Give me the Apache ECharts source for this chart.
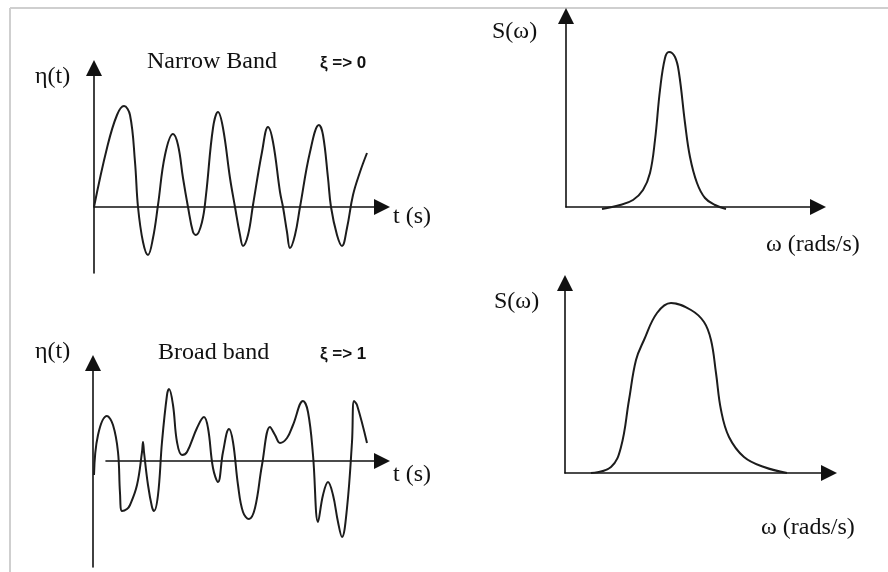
<!DOCTYPE html>
<html>
<head>
<meta charset="utf-8">
<script src="https://cdn.jsdelivr.net/npm/echarts@6/dist/echarts.min.js"></script>
<style>
  html, body { margin: 0; padding: 0; background: #fff; }
  #chart { width: 888px; height: 572px; }
</style>
</head>
<body>
<div id="chart"></div>
<script>
// Narrow-band sea state: time (s) and surface elevation η(t)
const narrowT   = [0, 1.3, 2.3, 3.0, 3.6, 4.1, 4.4, 4.9, 5.4, 5.9, 6.4, 7.1, 7.9, 8.4, 8.9, 9.4, 9.9, 10.2, 10.8, 11.2,
                   11.9, 12.4, 12.9, 13.6, 14.1, 14.6, 14.9, 15.4, 15.9, 16.8, 17.4, 17.9, 18.6, 18.9, 19.3, 19.6, 20.1,
                   20.6, 21.6, 22.5, 22.9, 23.4, 23.7, 24.3, 24.8, 25.3, 25.9, 26.6, 27.3];
const narrowEta = [0, 0.59, 0.92, 1.01, 0.92, 0.45, 0, -0.35, -0.48, -0.31, 0.02, 0.52, 0.73, 0.62, 0.29, 0, -0.25, -0.28, -0.15, 0.12,
                   0.79, 0.95, 0.79, 0.29, 0, -0.28, -0.39, -0.28, 0.02, 0.55, 0.80, 0.65, 0.15, 0, -0.25, -0.41, -0.28,
                   0, 0.55, 0.82, 0.72, 0.29, 0, -0.28, -0.39, -0.21, 0.12, 0.35, 0.54];

// Broad-band sea state: time (s) and surface elevation η(t)
const broadT   = [-1.2, -0.8, 0.1, 0.7, 1.2, 1.4, 1.6, 2.1, 2.4, 3.1, 3.6, 3.7, 3.8, 4.2, 4.6, 4.8, 5.2, 5.6, 6.1, 6.3,
                  6.7, 7.1, 7.6, 8.1, 9.1, 9.8, 10.2, 10.7, 11.2, 11.7, 12.3, 12.7, 13.2, 13.7, 14.3, 14.9, 15.6, 16.4,
                  16.9, 17.4, 18.1, 18.7, 19.7, 20.2, 20.7, 21.2, 21.7, 22.2, 22.7, 23.2, 23.6, 24.1, 24.6, 24.8, 25.1, 26.1];
const broadEta = [-0.14, 0.26, 0.45, 0.36, 0.09, -0.32, -0.50, -0.48, -0.44, -0.24, 0.09, 0.19, 0.09, -0.24, -0.46, -0.50, -0.34, 0.19, 0.66, 0.72,
                  0.56, 0.19, 0.06, 0.09, 0.33, 0.44, 0.33, -0.07, -0.21, 0.09, 0.32, 0.19, -0.24, -0.51, -0.58, -0.47, -0.04, 0.34,
                  0.26, 0.18, 0.23, 0.36, 0.60, 0.49, 0.06, -0.61, -0.34, -0.21, -0.34, -0.61, -0.76, -0.47, 0.19, 0.60, 0.56, 0.18];

// Narrow-band spectrum: frequency ω (rads/s) and spectral density S(ω)
const narrowW = [3.6, 5.4, 6.7, 7.7, 8.4, 8.9, 9.4, 9.9, 10.3, 10.9, 11.3, 11.9, 12.4, 13.1, 13.9, 14.9, 16.0];
const narrowS = [-0.02, 0.02, 0.07, 0.17, 0.34, 0.67, 1.17, 1.49, 1.55, 1.50, 1.34, 0.84, 0.50, 0.24, 0.09, 0.02, -0.02];

// Broad-band spectrum: frequency ω (rads/s) and spectral density S(ω)
const broadW = [2.6, 4.6, 5.6, 6.4, 7.1, 7.9, 9.2, 10.6, 12.6, 13.9, 14.6, 15.1, 15.6, 16.4, 17.9, 19.9, 22.2];
const broadS = [0, 0.06, 0.26, 0.73, 1.13, 1.33, 1.60, 1.70, 1.63, 1.51, 1.33, 1.00, 0.63, 0.36, 0.16, 0.06, 0];

// Text
const etaLabel = 'η(t)';
const timeLabel = 't (s)';
const specLabel = 'S(ω)';
const freqLabel = 'ω (rads/s)';
const narrowTitle = 'Narrow Band';
const broadTitle = 'Broad band';
const narrowXi = 'ξ => 0';
const broadXi = 'ξ => 1';

const zip = (xs, ys) => xs.map((x, i) => [x, ys[i]]);

const INK = '#111';
const SERIF = '"Liberation Serif", "Times New Roman", serif';
const SANS = '"Liberation Sans", Arial, sans-serif';

function axisLine(onZero) {
  return { show: true, onZero, symbol: ['none', 'triangle'], symbolSize: [16, 16],
           lineStyle: { color: INK, width: 1.6 } };
}
function xAx(gridIndex, min, max, visible) {
  return { type: 'value', gridIndex, min, max, show: visible, axisLine: axisLine(true),
           axisTick: { show: false }, axisLabel: { show: false }, splitLine: { show: false } };
}
function yAx(gridIndex, min, max, visible) {
  return { type: 'value', gridIndex, min, max, show: visible, axisLine: axisLine(false),
           axisTick: { show: false }, axisLabel: { show: false }, splitLine: { show: false } };
}
function curve(idx, data) {
  return { type: 'line', xAxisIndex: idx, yAxisIndex: idx, data, smooth: 0.4, showSymbol: false,
           clip: false, silent: true, lineStyle: { color: '#1c1c1c', width: 2 } };
}
function label(text, x, y, font) {
  return { type: 'text', x, y, silent: true,
           style: { text, font, fill: '#111', align: 'left', verticalAlign: 'middle' } };
}

const chart = echarts.init(document.getElementById('chart'), null, { renderer: 'canvas' });
chart.setOption({
  backgroundColor: '#fff',
  animation: false,
  grid: [
    { left: 94, top: 68, width: 288, height: 205, outerBoundsMode: 'none' },
    // broad-band record: curve and vertical axis
    { left: 93, top: 363, width: 289, height: 204, outerBoundsMode: 'none' },
    { left: 566, top: 16, width: 252, height: 191, outerBoundsMode: 'none' },
    { left: 565, top: 283, width: 264, height: 190, outerBoundsMode: 'none' },
    // broad-band record: time axis, starting just right of the vertical axis
    { left: 106, top: 363, width: 276, height: 204, outerBoundsMode: 'none' }
  ],
  xAxis: [xAx(0, 0, 28.8, true), xAx(1, -1.3, 27.6, false), xAx(2, 0, 25.2, true), xAx(3, 0, 26.4, true),
          xAx(4, 0, 27.6, true)],
  yAxis: [yAx(0, -0.66, 1.39, true), yAx(1, -1.06, 0.98, true), yAx(2, 0, 1.91, true), yAx(3, 0, 1.90, true),
          yAx(4, -1.06, 0.98, false)],
  series: [
    curve(0, zip(narrowT, narrowEta)),
    curve(1, zip(broadT, broadEta)),
    curve(2, zip(narrowW, narrowS)),
    curve(3, zip(broadW, broadS))
  ],
  graphic: [
    { type: 'line', silent: true, shape: { x1: 10, y1: 8, x2: 888, y2: 8 }, style: { stroke: '#cfcfcf', lineWidth: 2 } },
    { type: 'line', silent: true, shape: { x1: 10, y1: 8, x2: 10, y2: 572 }, style: { stroke: '#cfcfcf', lineWidth: 2 } },
    label(etaLabel, 35, 77, '24px ' + SERIF),
    label(narrowTitle, 147, 62, '24px ' + SERIF),
    label(narrowXi, 320, 63, 'bold 17px ' + SANS),
    label(timeLabel, 393, 217, '24px ' + SERIF),
    label(etaLabel, 35, 352, '24px ' + SERIF),
    label(broadTitle, 158, 353, '24px ' + SERIF),
    label(broadXi, 320, 354, 'bold 17px ' + SANS),
    label(timeLabel, 393, 475, '24px ' + SERIF),
    label(specLabel, 492, 32, '24px ' + SERIF),
    label(freqLabel, 766, 245, '24px ' + SERIF),
    label(specLabel, 494, 302, '24px ' + SERIF),
    label(freqLabel, 761, 528, '24px ' + SERIF)
  ]
});
</script>
</body>
</html>
